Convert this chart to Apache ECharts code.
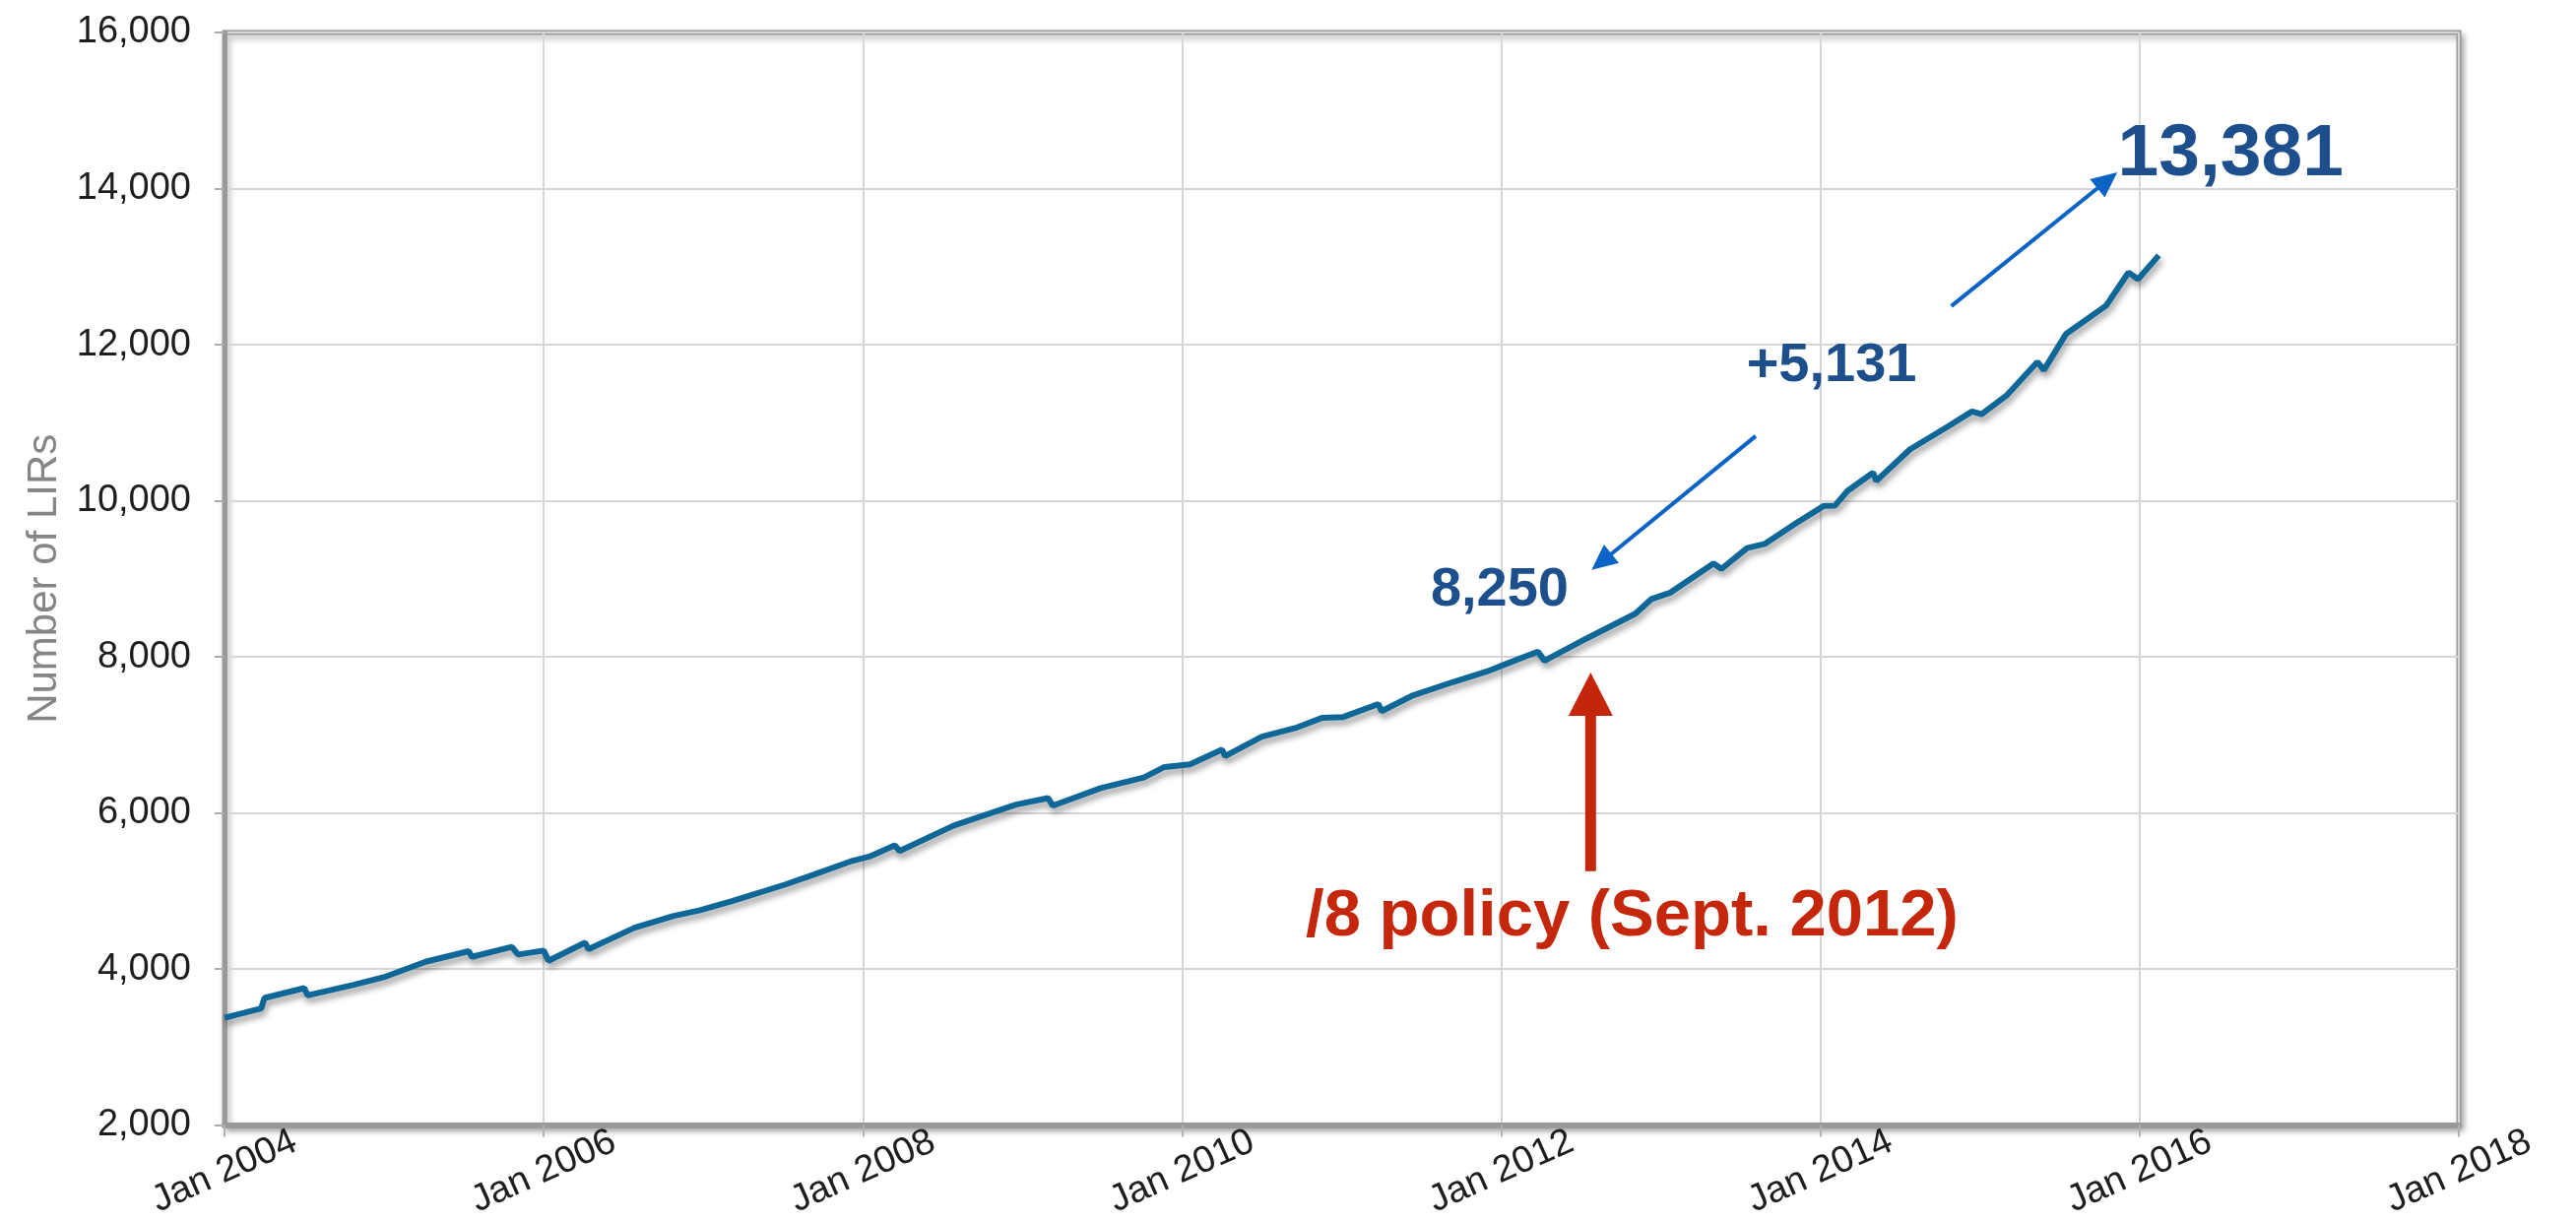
<!DOCTYPE html>
<html>
<head>
<meta charset="utf-8">
<title>Number of LIRs</title>
<script src="https://cdn.jsdelivr.net/npm/echarts@6/dist/echarts.min.js"></script>
<style>
  html, body { margin: 0; padding: 0; background: #fff; }
  #chart { width: 2616px; height: 1240px; }
</style>
</head>
<body>
<div id="chart"></div>
<script>
// points: decimal year -> number of LIRs
var years = [
  2004.00, 2004.23, 2004.25, 2004.50, 2004.52, 2004.81, 2005.01, 2005.26,
  2005.53, 2005.55, 2005.80, 2005.84, 2006.00, 2006.03, 2006.26, 2006.28,
  2006.57, 2006.81, 2006.98, 2007.18, 2007.51, 2007.69, 2007.92, 2008.04,
  2008.20, 2008.23, 2008.57, 2008.96, 2009.16, 2009.19, 2009.49, 2009.76,
  2009.89, 2010.05, 2010.25, 2010.27, 2010.50, 2010.72, 2010.88, 2011.01,
  2011.23, 2011.25, 2011.44, 2011.70, 2011.91, 2012.04, 2012.23, 2012.27,
  2012.54, 2012.84, 2012.94, 2013.06, 2013.33, 2013.38, 2013.54, 2013.65,
  2013.85, 2014.02, 2014.09, 2014.17, 2014.33, 2014.35, 2014.56, 2014.80,
  2014.95, 2015.01, 2015.17, 2015.36, 2015.40, 2015.54, 2015.79, 2015.93,
  2015.99, 2016.12
];
var lirs = [
  3375, 3494, 3629, 3755, 3662, 3797, 3903, 4093,
  4228, 4156, 4283, 4186, 4236, 4106, 4339, 4254,
  4530, 4678, 4754, 4869, 5080, 5208, 5377, 5441,
  5585, 5513, 5839, 6106, 6191, 6093, 6318, 6453,
  6589, 6623, 6812, 6728, 6978, 7095, 7220, 7229,
  7395, 7304, 7500, 7679, 7812, 7917, 8067, 7950,
  8241, 8553, 8740, 8823, 9197, 9127, 9393, 9447,
  9717, 9933, 9936, 10127, 10360, 10254, 10657, 10953,
  11144, 11110, 11356, 11779, 11674, 12140, 12500, 12924,
  12839, 13144
];

// axis ranges
var xMin = 2004, xMax = 2018, xStep = 2;
var yMin = 2000, yMax = 16000, yStep = 2000;

// annotations, placed in data coordinates
var notes = [
  { text: '13,381', at: [2016.57, 14436], size: 75, color: '#1c4f8b' },
  { text: '+5,131', at: [2014.07, 11724], size: 56, color: '#1c4f8b' },
  { text: '8,250', at: [2011.99, 8848], size: 56, color: '#1c4f8b' },
  { text: '/8 policy (Sept. 2012)', at: [2012.82, 4661], size: 67, color: '#c4270b' }
];
var blueArrows = [
  { from: [2014.82, 12494], to: [2015.86, 14209] },
  { from: [2013.594, 10829], to: [2012.566, 9113] }
];
var policyArrow = { from: [2012.56, 5254], to: [2012.56, 7800] };

var FONT = '"Liberation Sans", Arial, Helvetica, sans-serif';

function thousands(v) {
  return String(v).replace(/\B(?=(\d{3})+(?!\d))/g, ',');
}

var chart = echarts.init(document.getElementById('chart'));

chart.setOption({
  backgroundColor: '#fff',
  animation: false,
  grid: {
    left: 228,
    right: 119,
    top: 33,
    bottom: 97,
    show: true,
    backgroundColor: '#fff',
    borderColor: '#9c9c9c',
    borderWidth: 5,
    shadowColor: 'rgba(0,0,0,0.28)',
    shadowBlur: 6,
    shadowOffsetX: 3,
    shadowOffsetY: 4
  },
  xAxis: {
    type: 'value',
    min: xMin,
    max: xMax,
    interval: xStep,
    axisLine: { lineStyle: { color: '#999', width: 6 } },
    axisTick: { show: true, length: 12, lineStyle: { color: '#b0b0b0', width: 2 } },
    splitLine: { show: true, lineStyle: { color: '#d6d6d6', width: 2 } },
    axisLabel: {
      rotate: 24,
      align: 'center',
      verticalAlign: 'middle',
      margin: 47,
      showMinLabel: true,
      showMaxLabel: true,
      color: '#1e1e1e',
      fontFamily: FONT,
      fontSize: 38,
      formatter: function(v) {
        return 'Jan ' + v;
      }
    }
  },
  yAxis: {
    type: 'value',
    min: yMin,
    max: yMax,
    interval: yStep,
    name: 'Number of LIRs',
    nameLocation: 'middle',
    nameGap: 158,
    nameTextStyle: { color: '#858585', fontFamily: FONT, fontSize: 42 },
    axisLine: { show: true, lineStyle: { color: '#999', width: 5 } },
    axisTick: { show: true, length: 10, lineStyle: { color: '#aaa', width: 2 } },
    splitLine: { show: true, lineStyle: { color: '#d6d6d6', width: 2 } },
    axisLabel: {
      margin: 34,
      color: '#1e1e1e',
      fontFamily: FONT,
      fontSize: 38,
      formatter: thousands
    }
  },
  series: [{
    type: 'line',
    data: years.map(function(y, i) { return [y, lirs[i]]; }),
    symbol: 'none',
    lineStyle: {
      color: '#0e6797',
      width: 6,
      shadowColor: 'rgba(0,0,0,0.38)',
      shadowBlur: 6,
      shadowOffsetX: 2,
      shadowOffsetY: 5
    },
    z: 5
  }]
});

function px(p) {
  return chart.convertToPixel({ gridIndex: 0 }, p);
}

// arrow = shaft + triangular head, both in pixels from data points
function arrow(from, to, color, width, headLen, headW) {
  var a = px(from), b = px(to);
  var dx = b[0] - a[0], dy = b[1] - a[1];
  var len = Math.sqrt(dx * dx + dy * dy);
  var ux = dx / len, uy = dy / len;
  var bx = b[0] - ux * headLen, by = b[1] - uy * headLen;
  var nx = -uy * headW / 2, ny = ux * headW / 2;
  return [{
    type: 'line',
    z: 20,
    shape: { x1: a[0], y1: a[1], x2: bx + ux * 2, y2: by + uy * 2 },
    style: { stroke: color, lineWidth: width }
  }, {
    type: 'polygon',
    z: 20,
    shape: { points: [[b[0], b[1]], [bx + nx, by + ny], [bx - nx, by - ny]] },
    style: { fill: color }
  }];
}

var graphics = [];
blueArrows.forEach(function(ar) {
  graphics = graphics.concat(arrow(ar.from, ar.to, '#0a63c5', 4, 26, 24));
});
graphics = graphics.concat(arrow(policyArrow.from, policyArrow.to, '#c4260a', 11, 44, 45));

notes.forEach(function(n) {
  var p = px(n.at);
  graphics.push({
    type: 'text',
    z: 21,
    x: p[0],
    y: p[1],
    style: {
      text: n.text,
      fill: n.color,
      font: 'bold ' + n.size + 'px ' + FONT,
      align: 'center',
      verticalAlign: 'middle'
    }
  });
});

chart.setOption({ graphic: graphics });
</script>
</body>
</html>
